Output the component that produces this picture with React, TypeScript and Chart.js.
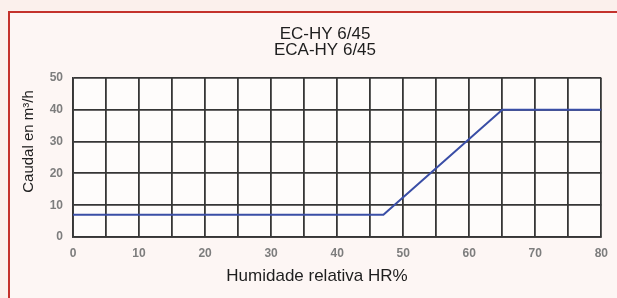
import React, { useEffect, useRef } from "react";
import { Chart, registerables } from "chart.js";

Chart.register(...registerables);

const humidity = [0, 47, 65, 80];
const flow = [7, 7, 40, 40];
const titleLines = ["EC-HY 6/45", "ECA-HY 6/45"];
const xTitle = "Humidade relativa HR%";
const yTitle = "Caudal en m³/h";

const decorPlugin = {
  id: "decor",
  beforeDraw(chart: any) {
    const { ctx, chartArea } = chart;
    ctx.save();
    ctx.fillStyle = "#fbf0ec";
    ctx.fillRect(0, 0, chart.width, chart.height);
    ctx.fillStyle = "#fdf6f4";
    ctx.fillRect(10, 13, chart.width, chart.height);
    ctx.strokeStyle = "#c4322c";
    ctx.lineWidth = 2;
    ctx.strokeRect(9, 12, chart.width + 40, chart.height + 40);
    ctx.fillStyle = "#fefcfb";
    ctx.fillRect(chartArea.left, chartArea.top, chartArea.right - chartArea.left, chartArea.bottom - chartArea.top);
    ctx.restore();
  },
  afterDraw(chart: any) {
    const { ctx } = chart;
    ctx.save();
    ctx.fillStyle = "#1e1e1e";
    ctx.font = "17px 'Liberation Sans', Arial, sans-serif";
    ctx.textAlign = "center";
    ctx.textBaseline = "alphabetic";
    ctx.fillText(titleLines[0], 325, 39);
    ctx.fillText(titleLines[1], 325, 55);
    ctx.fillText(xTitle, 317, 281);
    ctx.translate(33, 141.5);
    ctx.rotate(-Math.PI / 2);
    ctx.font = "15px 'Liberation Sans', Arial, sans-serif";
    ctx.fillText(yTitle, 0, 0);
    ctx.restore();
  },
};

export default function App() {
  const ref = useRef<HTMLCanvasElement>(null);
  useEffect(() => {
    if (!ref.current) return;
    const tickFont = { family: "'Liberation Sans', Arial, sans-serif", size: 12, weight: "bold" as const };
    const chart = new Chart(ref.current, {
      type: "line",
      data: {
        datasets: [
          {
            data: humidity.map((h, i) => ({ x: h, y: flow[i] })),
            borderColor: "#3a4ea6",
            borderWidth: 2,
            pointRadius: 0,
            fill: false,
            tension: 0,
          },
        ],
      },
      options: {
        animation: false,
        responsive: false,
        devicePixelRatio: 1,
        layout: { padding: { left: 0, top: 78, right: 12, bottom: 0 } },
        plugins: { legend: { display: false }, title: { display: false }, tooltip: { enabled: false } },
        scales: {
          x: {
            type: "linear",
            min: 0,
            max: 80,
            afterFit: (s: any) => {
              s.height = 61;
            },
            grid: { color: "#363636", lineWidth: 1.8, drawTicks: false },
            border: { color: "#363636", width: 1.8 },
            ticks: {
              stepSize: 5,
              padding: 9,
              color: "#7d7d7d",
              font: tickFont,
              maxRotation: 0,
              autoSkip: false,
              callback: (v: any) => (Number(v) % 10 === 0 ? String(v) : ""),
            },
          },
          y: {
            type: "linear",
            min: 0,
            max: 50,
            afterFit: (s: any) => {
              s.width = 73;
            },
            grid: { color: "#363636", lineWidth: 1.8, drawTicks: false },
            border: { color: "#363636", width: 1.8 },
            ticks: { stepSize: 10, padding: 10, color: "#7d7d7d", font: tickFont },
          },
        },
      },
      plugins: [decorPlugin],
    });
    return () => chart.destroy();
  }, []);
  return (
    <div style={{ position: "fixed", left: 0, top: 0, width: 617, height: 298 }}>
      <canvas ref={ref} width={617} height={298} style={{ width: 617, height: 298, display: "block" }} />
    </div>
  );
}
